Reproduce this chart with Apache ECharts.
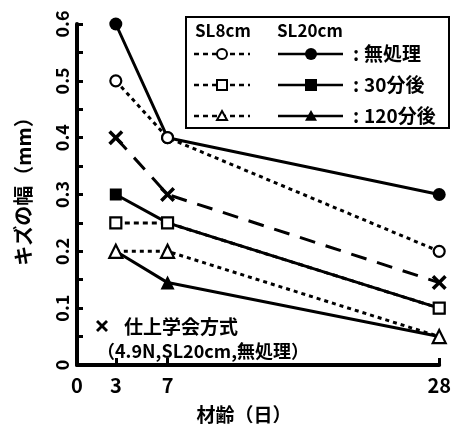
<!DOCTYPE html>
<html><head><meta charset="utf-8">
<script src="https://cdn.jsdelivr.net/npm/echarts@6/dist/echarts.min.js"></script>
<style>html,body{margin:0;padding:0;background:#fff}#c{width:454px;height:429px}</style>
</head><body><div id="c"></div>
<script>
const days = [3, 7, 28];
const xTickLabels = [0, 3, 7, 28];
const sl8Untreated = [0.5, 0.4, 0.2];
const sl20Untreated = [0.6, 0.4, 0.3];
const sl8After30 = [0.25, 0.25, 0.1];
const sl20After30 = [0.3, 0.25, 0.1];
const sl8After120 = [0.2, 0.2, 0.05];
const sl20After120 = [0.2, 0.145, 0.05];
const jsfMethod = [0.4, 0.3, 0.145];
const legendHeaders = ['SL8cm', 'SL20cm'];
const legendRows = ['無処理', '30分後', '120分後'];
const noteLines = ['仕上学会方式', '（4.9N,SL20cm,無処理）'];

const FONT = '"Noto Sans CJK JP", sans-serif';
const X_PATH = 'path://M2,0 L6,4 L10,0 L12,2 L8,6 L12,10 L10,12 L6,8 L2,12 L0,10 L4,6 L0,2 Z';
const pts = arr => days.map((d, i) => [d, arr[i]]);

function ser(name, arr, symbol, size, open, lineType, z) {
  return {
    name, type: 'line', data: pts(arr), symbol, symbolSize: size,
    z,
    lineStyle: { color: '#000', width: 3, type: lineType },
    itemStyle: open ? { color: '#fff', borderColor: '#000', borderWidth: 2.2 } : { color: '#000', borderWidth: 0 },
    emphasis: { disabled: true }, animation: false
  };
}

const chart = echarts.init(document.getElementById('c'));
const g = [];
g.push({ type: 'rect', shape: { x: 186, y: 17, width: 263, height: 111 }, style: { fill: '#fff', stroke: '#000', lineWidth: 2 }, z: 50 });
g.push({ type: 'text', x: 195, y: 31, style: { text: legendHeaders[0], font: 'bold 17px ' + FONT, fill: '#000', textVerticalAlign: 'middle' }, z: 51 });
g.push({ type: 'text', x: 277, y: 31, style: { text: legendHeaders[1], font: 'bold 17px ' + FONT, fill: '#000', textVerticalAlign: 'middle' }, z: 51 });
const rowY = [54, 85, 116];
const syms = ['circle', 'rect', 'triangle'];
rowY.forEach((y, i) => {
  g.push({ type: 'line', shape: { x1: 194, y1: y, x2: 250, y2: y }, style: { stroke: '#000', lineWidth: 2.5, lineDash: [5, 4] }, z: 51 });
  g.push({ type: 'line', shape: { x1: 278, y1: y, x2: 343, y2: y }, style: { stroke: '#000', lineWidth: 2.5 }, z: 51 });
  g.push({ type: 'text', x: 353, y: y, style: { text: ':', font: 'bold 19px ' + FONT, fill: '#000', textVerticalAlign: 'middle' }, z: 51 });
  g.push({ type: 'text', x: 364, y: y, style: { text: legendRows[i], font: 'bold 19px ' + FONT, fill: '#000', textVerticalAlign: 'middle' }, z: 51 });
});
const mk = (type, cx, cy, open, r) => {
  const style = open ? { fill: '#fff', stroke: '#000', lineWidth: 2 } : { fill: '#000' };
  if (type === 'circle') return { type: 'circle', shape: { cx, cy, r }, style, z: 52 };
  if (type === 'rect') return { type: 'rect', shape: { x: cx - r, y: cy - r, width: 2 * r, height: 2 * r }, style, z: 52 };
  return { type: 'polygon', shape: { points: [[cx, cy - r], [cx + r, cy + r * 0.8], [cx - r, cy + r * 0.8]] }, style, z: 52 };
};
rowY.forEach((y, i) => {
  g.push(mk(syms[i], 222, y, true, 5));
  g.push(mk(syms[i], 311, y, false, 6));
});
const xPoly = [[2,0],[6,4],[10,0],[12,2],[8,6],[12,10],[10,12],[6,8],[2,12],[0,10],[4,6],[0,2]].map(p => [96 + p[0], 320 + p[1]]);
g.push({ type: 'polygon', shape: { points: xPoly }, style: { fill: '#000' }, z: 51 });
g.push({ type: 'text', x: 124, y: 327, style: { text: noteLines[0], font: 'bold 19px ' + FONT, fill: '#000', textVerticalAlign: 'middle' }, z: 51 });
g.push({ type: 'text', x: 97, y: 351, style: { text: noteLines[1], font: 'bold 18px ' + FONT, fill: '#000', textVerticalAlign: 'middle' }, z: 51 });

chart.setOption({
  animation: false,
  backgroundColor: '#fff',
  grid: { left: 77, right: 14, top: 24, bottom: 57, containLabel: false },
  xAxis: {
    type: 'value', min: 0, max: 28,
    name: '材齢（日）', nameLocation: 'middle', nameGap: 40,
    nameTextStyle: { fontWeight: 'bold', fontSize: 19, fontFamily: FONT, color: '#000', padding: [0, 28, 0, 0] },
    axisLine: { lineStyle: { color: '#000', width: 4 } },
    axisTick: { show: true, inside: true, length: 7, lineStyle: { color: '#000', width: 3 }, customValues: [3, 7, 28] },
    axisLabel: { customValues: xTickLabels, fontWeight: 'bold', fontSize: 20, fontFamily: FONT, color: '#000', margin: 10 },
    splitLine: { show: false }
  },
  yAxis: {
    type: 'value', min: 0, max: 0.6, interval: 0.1,
    name: 'キズの幅（mm）', nameLocation: 'middle', nameGap: 44, nameRotate: 90,
    nameTextStyle: { fontWeight: 'bold', fontSize: 20, fontFamily: FONT, color: '#000', padding: [0, 0, 0, 16] },
    axisLine: { show: true, lineStyle: { color: '#000', width: 4 } },
    axisTick: { show: true, inside: true, length: 6, lineStyle: { color: '#000', width: 3 } },
    minorTick: { show: true, splitNumber: 2, length: 6, lineStyle: { color: '#000', width: 3 } },
    axisLabel: { rotate: 90, fontWeight: 'bold', fontSize: 18, fontFamily: FONT, color: '#000', margin: 6, formatter: v => (v === 0 ? '0' : v.toFixed(1)) },
    splitLine: { show: false }, minorSplitLine: { show: false }
  },
  series: [
    ser('仕上学会方式', jsfMethod, X_PATH, 15, false, [16, 11], 2),
    ser('SL20 無処理', sl20Untreated, 'circle', 13, false, 'solid', 3),
    ser('SL20 30分後', sl20After30, 'rect', 12, false, 'solid', 3),
    ser('SL20 120分後', sl20After120, 'triangle', 14, false, 'solid', 3),
    ser('SL8 無処理', sl8Untreated, 'circle', 11, true, [4, 4], 4),
    ser('SL8 30分後', sl8After30, 'rect', 11, true, [5, 4], 4),
    ser('SL8 120分後', sl8After120, 'triangle', 13, true, [4, 4], 4)
  ],
  graphic: g
});
</script></body></html>
